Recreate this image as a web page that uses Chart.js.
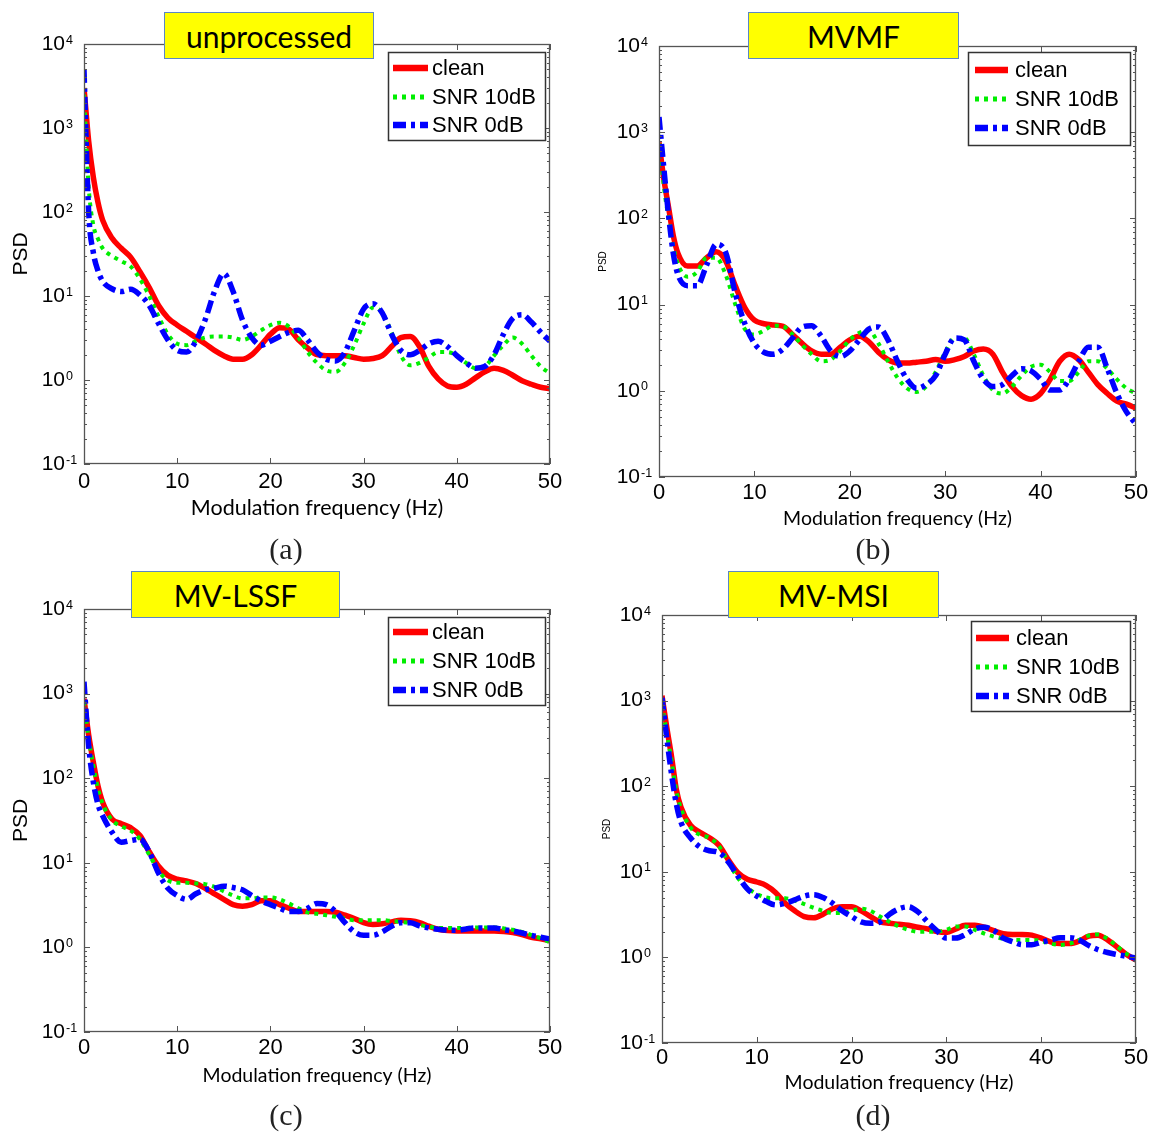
<!DOCTYPE html>
<html><head><meta charset="utf-8">
<script src="https://cdn.jsdelivr.net/npm/chart.js@4.4.1/dist/chart.umd.min.js"></script>
<style>
body{margin:0;background:#fff;width:1155px;height:1133px;position:relative;overflow:hidden;}
canvas{position:absolute;}
.ttl{position:absolute;background:#ffff00;border:1.5px solid #5b87c5;box-sizing:border-box;font-family:Lato,sans-serif;font-size:30px;color:#000;display:flex;align-items:center;justify-content:center;z-index:2;}
.cap{position:absolute;font-family:'Liberation Serif',serif;font-size:30px;line-height:34px;color:#222;transform:translateX(-50%);}
</style></head><body>
<script>
// ---- data ----
const freq = [0,0.5,1,1.5,2,3,4,5,6,7,8,9,10,11,12,13,14,15,16,17,18,19,20,21,22,23,24,25,26,27,28,29,30,31,32,33,34,35,36,37,38,39,40,41,42,43,44,45,46,47,48,49,50];
const seriesNames = ['clean','SNR 10dB','SNR 0dB'];
const yTickValues = [0.1,1,10,100,1000,10000];
const yTickExponents = ['-1','0','1','2','3','4'];
const xTickLabels = [0,10,20,30,40,50];
const panelTitles = ['unprocessed','MVMF','MV-LSSF','MV-MSI'];
const panelCaptions = ['(a)','(b)','(c)','(d)'];
const xAxisTitle = 'Modulation frequency (Hz)';
const yAxisTitle = 'PSD';

const unprocClean = [3000,700,260,130,80, 49,37,29,19.5,12.6,7.7,5.5,4.5, 3.8,3.2,2.7,2.25,1.95,1.77,1.77,2.0,2.6,3.5, 4.2,4.0,3.0,2.4,2.0,1.95,1.95,1.95,1.85,1.77, 1.8,1.95,2.5,3.2,3.3,2.5,1.45,1.03,0.85,0.82, 0.89,1.06,1.25,1.38,1.3,1.14,0.98,0.89,0.82,0.79];
const unproc10 = [2500,200,70,48,37, 30,26,22.5,16,10,5.7,3.5,2.7, 2.6,2.9,3.2,3.3,3.3,3.2,3.0,3.3,3.9,4.5, 4.8,4.3,3.2,2.15,1.6,1.3,1.25,1.6,2.6,4.7, 7.3,6.3,3.7,1.95,1.5,1.6,1.85,2.15,2.15,1.95, 1.6,1.38,1.45,1.95,2.6,3.2,2.7,1.95,1.45,1.2];
const unproc0 = [4900,100,33,20,15, 12.2,11.3,12,10.3,7.7,4.7,3.0,2.25, 2.15,2.9,5.2,11.3,18.5,11.3,5.2,3.2,2.6,2.9, 3.3,3.7,3.9,3.0,2.15,1.77,1.68,2.15,3.9,7.0, 8.1,6.3,3.5,2.25,2.0,2.25,2.7,2.9,2.5,1.95, 1.6,1.38,1.45,2.0,3.5,5.4,6.0,4.9,3.7,2.9];

const mvmfClean = [760,290,135,63,39, 28,28,35,41,32,16.5,9.2,6.6, 6.0,5.8,5.6,4.5,3.55,2.9,2.66,2.66,3.2,3.9, 4.3,3.7,2.8,2.3,2.1,2.1,2.15,2.2,2.3,2.2, 2.3,2.5,2.9,3.05,2.66,1.65,1.12,0.88,0.8,0.93, 1.36,2.2,2.66,2.3,1.65,1.18,0.93,0.76,0.7,0.63];
const mvmf10 = [930,240,100,47,29, 21,24,35,35,22,10,5.2,4.5, 5.0,5.7,5.6,4.5,3.4,2.66,2.2,2.3,2.9,3.9, 4.7,5.0,3.55,2.2,1.42,1.07,0.97,1.12,1.65,2.8, 4.1,4.1,2.66,1.5,1.02,0.93,1.12,1.5,1.9,2.0, 1.65,1.3,1.3,1.65,2.2,2.2,1.8,1.36,1.07,0.93];
const mvmf0 = [1500,390,110,39,22, 16.5,16.5,29,50,40,13.5,6.0,3.55, 2.8,2.66,3.05,4.1,5.5,5.7,4.3,2.9,2.5,2.9, 3.9,5.2,5.5,3.9,2.2,1.36,1.07,1.18,1.5,2.66, 4.1,3.9,2.2,1.36,1.12,1.18,1.5,1.8,1.7,1.36, 1.02,1.02,1.36,2.2,3.2,3.2,1.8,0.93,0.57,0.41];

const lssfClean = [870,325,155,81,52, 33,29,26,21,13.5,9.1,7.1,6.4, 6.1,5.7,5.0,4.3,3.7,3.2,3.07,3.2,3.55,3.55, 3.2,2.9,2.65,2.65,2.65,2.65,2.6,2.4,2.2,1.96, 1.87,1.9,2.0,2.1,2.06,1.96,1.78,1.64,1.58,1.56, 1.56,1.56,1.56,1.56,1.54,1.5,1.42,1.32,1.26,1.2];
const lssf10 = [800,300,140,75,50, 32,27,24,19,12.5,8,6.2,5.8, 5.8,5.7,5.6,5.2,4.6,4.1,3.8,3.8,3.9,3.9, 3.7,3.3,2.9,2.6,2.5,2.4,2.3,2.2,2.1,2.1, 2.1,2.1,2.05,2.0,1.95,1.85,1.75,1.7,1.7,1.7, 1.7,1.72,1.72,1.72,1.68,1.62,1.52,1.4,1.28,1.15];
const lssf0 = [1380,240,90,49,36, 23,17.5,18.3,19,13.5,7.5,5.0,4.1, 3.7,4.3,4.8,5.0,5.3,5.1,4.8,4.1,3.55,3.2, 2.9,2.65,2.65,2.9,3.3,3.2,2.65,1.96,1.53,1.39, 1.39,1.53,1.78,1.96,1.96,1.8,1.7,1.64,1.6,1.6, 1.65,1.7,1.7,1.7,1.62,1.56,1.48,1.39,1.32,1.26];

const msiClean = [1140,490,225,93,57, 35,29,25,20.5,13.8,9.8,8.2,7.6, 6.9,5.7,4.3,3.5,3.0,2.9,3.2,3.7,3.9,3.9, 3.5,3.0,2.6,2.5,2.44,2.37,2.25,2.15,2.0,1.95, 2.15,2.37,2.37,2.25,2.05,1.89,1.85,1.85,1.82,1.68, 1.52,1.45,1.45,1.55,1.77,1.82,1.6,1.32,1.08,0.93];
const msi10 = [900,420,200,90,55, 33,27,25,20,13,8.5,6.5,5.5, 5.0,4.9,4.9,4.6,4.2,3.8,3.5,3.3,3.3,3.5, 3.7,3.5,3.0,2.6,2.3,2.1,2.0,2.0,2.0,2.1, 2.3,2.3,2.1,1.9,1.75,1.65,1.6,1.6,1.6,1.55, 1.45,1.4,1.45,1.6,1.8,1.85,1.65,1.35,1.1,0.95];
const msi0 = [1080,370,140,63,38, 25,19.5,17.6,16.8,13,8.9,6.3,5.2, 4.5,4.1,4.3,4.7,5.2,5.4,5.0,4.3,3.5,3.0, 2.6,2.5,2.6,3.2,3.7,3.9,3.4,2.6,2.05,1.68, 1.68,1.85,2.15,2.25,2.05,1.68,1.52,1.41,1.41,1.5, 1.6,1.7,1.7,1.6,1.38,1.23,1.14,1.08,1.03,0.98];

// ---- layout (positions/styles kept separate from data) ----
const panels = [
  {series:[unprocClean,unproc10,unproc0], left:0, top:0, w:580, h:565,
   area:{left:84,top:44,right:550,bottom:464}, padL:9, hx:57, xtSize:21.5, xpad:5, psd:21,
   legend:{x:388,y:52,w:157,h:88,rows:[68,97,125],sx:393,ex:428,tx:432},
   title:{left:164,top:12,w:210,h:47}, cap:{x:286,y:532}},
  {series:[mvmfClean,mvmf10,mvmf0], left:580, top:0, w:575, h:565,
   area:{left:79,top:46,right:556,bottom:477}, padL:17, hx:53, xtSize:19.5, xpad:3, psd:10,
   legend:{x:388,y:52,w:162,h:93,rows:[70,99,128],sx:395,ex:428,tx:435},
   title:{left:748,top:12,w:211,h:47}, cap:{x:873,y:532}},
  {series:[lssfClean,lssf10,lssf0], left:0, top:565, w:580, h:568,
   area:{left:84,top:44,right:550,bottom:467}, padL:9, hx:55, xtSize:19.5, xpad:3, psd:21,
   legend:{x:388,y:52,w:157,h:88,rows:[67,96,125],sx:393,ex:428,tx:432},
   title:{left:131,top:571,w:209,h:47}, cap:{x:286,y:1098}},
  {series:[msiClean,msi10,msi0], left:580, top:565, w:575, h:568,
   area:{left:82,top:50,right:556,bottom:478}, padL:21, hx:51, xtSize:19.5, xpad:2, psd:10,
   legend:{x:391,y:56,w:159,h:90,rows:[73,102,131],sx:396,ex:429,tx:436},
   title:{left:728,top:571,w:211,h:47}, cap:{x:873,y:1098}}
];

const styles = [
  {borderColor:'#ff0000', borderWidth:5.5, borderDash:[], order:2},
  {borderColor:'#00ee00', borderWidth:4, borderDash:[4,5], order:1},
  {borderColor:'#0000ff', borderWidth:5.5, borderDash:[13,5,4,5], order:0}
];

const matlabAxes = {
  id:'matlabAxes',
  afterDatasetsDraw(chart, args, opts){
    const {ctx, chartArea:a, scales:{x,y}} = chart;
    ctx.save();
    ctx.strokeStyle = '#555'; ctx.lineWidth = 1; ctx.setLineDash([]);
    ctx.beginPath();
    xTickLabels.forEach(v=>{
      const px = Math.round(x.getPixelForValue(v))+0.5;
      ctx.moveTo(px,a.bottom); ctx.lineTo(px,a.bottom-6);
      ctx.moveTo(px,a.top); ctx.lineTo(px,a.top+6);
    });
    for(let e=-1;e<=3;e++){
      for(let m=1;m<=9;m++){
        const py = Math.round(y.getPixelForValue(m*Math.pow(10,e)))+0.5;
        const len = m===1?6:3;
        ctx.moveTo(a.left,py); ctx.lineTo(a.left+len,py);
        ctx.moveTo(a.right,py); ctx.lineTo(a.right-len,py);
      }
    }
    const pTop = Math.round(y.getPixelForValue(10000))+0.5;
    ctx.moveTo(a.left,pTop); ctx.lineTo(a.left+6,pTop);
    ctx.moveTo(a.right,pTop); ctx.lineTo(a.right-6,pTop);
    ctx.stroke();
    ctx.lineWidth = 1.3; ctx.strokeStyle = '#555';
    ctx.strokeRect(a.left+0.5,a.top+0.5,a.right-a.left-1,a.bottom-a.top-1);
    // exponents of y tick labels
    ctx.fillStyle = '#000'; ctx.font = '12.5px "Liberation Sans"';
    ctx.textAlign = 'left'; ctx.textBaseline = 'alphabetic';
    yTickValues.forEach((v,i)=>{
      const py = y.getPixelForValue(v);
      ctx.fillText(yTickExponents[i], a.left-18, py-0.5);
    });
    // legend
    const L = opts.legend;
    ctx.fillStyle = '#fff'; ctx.fillRect(L.x,L.y,L.w,L.h);
    ctx.strokeStyle = '#333'; ctx.lineWidth = 1.5; ctx.strokeRect(L.x+0.5,L.y+0.5,L.w,L.h);
    ctx.font = '22px "Liberation Sans"'; ctx.textBaseline = 'middle'; ctx.fillStyle = '#000';
    chart.data.datasets.forEach((ds,i)=>{
      const ry = L.rows[i];
      ctx.save();
      ctx.strokeStyle = ds.borderColor; ctx.lineWidth = ds.borderWidth+1;
      ctx.setLineDash(ds.borderDash||[]); ctx.lineCap = 'butt';
      ctx.beginPath(); ctx.moveTo(L.sx,ry); ctx.lineTo(L.ex,ry); ctx.stroke();
      ctx.restore();
      ctx.fillText(ds.label, L.tx, ry+1);
    });
    ctx.restore();
  }
};

panels.forEach((p,pi)=>{
  const cv = document.createElement('canvas');
  cv.width = p.w; cv.height = p.h;
  cv.style.left = p.left+'px'; cv.style.top = p.top+'px';
  cv.style.width = p.w+'px'; cv.style.height = p.h+'px';
  document.body.appendChild(cv);
  const datasets = p.series.map((vals,si)=>Object.assign({
    label: seriesNames[si],
    data: freq.map((f,i)=>({x:f, y:vals[i]})),
    fill:false, pointRadius:0, cubicInterpolationMode:'monotone',
    borderCapStyle:'butt', borderJoinStyle:'round'
  }, styles[si]));
  new Chart(cv, {
    type:'line',
    data:{datasets},
    options:{
      responsive:false, animation:false, events:[],
      layout:{padding:{left:p.padL, top:p.area.top, right:p.w-p.area.right, bottom:p.h-p.area.bottom-p.hx}},
      plugins:{legend:{display:false}, tooltip:{enabled:false}, matlabAxes:{legend:p.legend}},
      scales:{
        x:{type:'linear', min:0, max:50,
           afterBuildTicks(s){ s.ticks = xTickLabels.map(v=>({value:v})); },
           ticks:{font:{family:'Liberation Sans', size:22}, color:'#000', padding:p.xpad, maxRotation:0, autoSkip:false},
           grid:{display:false, drawTicks:false}, border:{display:false},
           title:{display:true, text:xAxisTitle, font:{family:'Lato', size:p.xtSize}, color:'#000', padding:0},
           afterFit(s){ s.height = p.hx; }},
        y:{type:'logarithmic', min:0.1, max:10000,
           afterBuildTicks(s){ s.ticks = yTickValues.map(v=>({value:v, major:true})); },
           ticks:{callback:()=> '10', font:{family:'Liberation Sans', size:21}, color:'#000', padding:19, autoSkip:false},
           grid:{display:false, drawTicks:false}, border:{display:false},
           title:{display:true, text:yAxisTitle, font:{family:'Liberation Sans', size:p.psd}, color:'#000', padding:0},
           afterFit(s){ s.width = p.area.left - p.padL; }}
      }
    },
    plugins:[matlabAxes]
  });
  const t = document.createElement('div');
  t.className = 'ttl'; t.textContent = panelTitles[pi];
  Object.assign(t.style,{left:p.title.left+'px', top:p.title.top+'px', width:p.title.w+'px', height:p.title.h+'px'});
  document.body.appendChild(t);
  const c = document.createElement('div');
  c.className = 'cap'; c.textContent = panelCaptions[pi];
  Object.assign(c.style,{left:p.cap.x+'px', top:p.cap.y+'px'});
  document.body.appendChild(c);
});
</script>
</body></html>
